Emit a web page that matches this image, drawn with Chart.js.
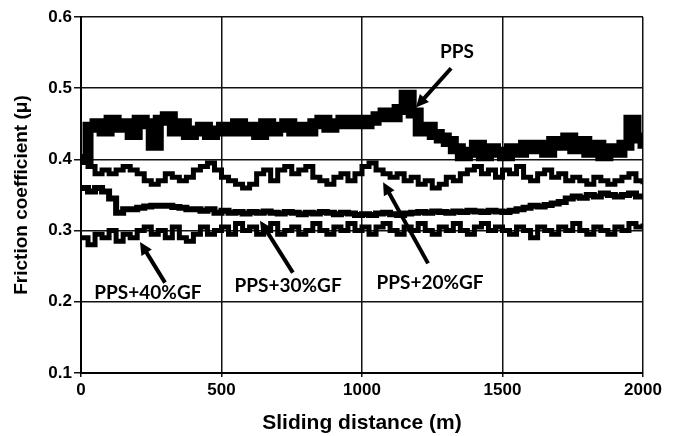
<!DOCTYPE html>
<html>
<head>
<meta charset="utf-8">
<script src="https://cdn.jsdelivr.net/npm/chart.js@4.4.1/dist/chart.umd.min.js"></script>
<style>
  html, body { margin: 0; padding: 0; background: #fff; }
  #wrap { width: 676px; height: 436px; }
</style>
</head>
<body>
<div id="wrap"><canvas id="friction_chart" width="676" height="436"></canvas></div>
<script>
// sliding distance (m), one reading every 25 m
const distances = [];
for (let d = 0; d <= 2000; d += 25) distances.push(d);

const pps = [0.40, 0.445, 0.45, 0.44, 0.455, 0.445, 0.45, 0.435, 0.455, 0.45, 0.42, 0.455, 0.46, 0.44, 0.45, 0.435, 0.44, 0.445, 0.435, 0.44,
  0.445, 0.44, 0.45, 0.44, 0.445, 0.435, 0.45, 0.44, 0.445, 0.45, 0.44, 0.445, 0.44, 0.45, 0.455, 0.445, 0.45, 0.455, 0.45, 0.455,
  0.45, 0.455, 0.46, 0.465, 0.46, 0.47, 0.49, 0.465, 0.44, 0.445, 0.435, 0.43, 0.425, 0.415, 0.405, 0.41, 0.42, 0.405, 0.415, 0.41,
  0.405, 0.415, 0.41, 0.42, 0.415, 0.42, 0.41, 0.425, 0.42, 0.43, 0.415, 0.425, 0.41, 0.42, 0.405, 0.415, 0.41, 0.42, 0.455, 0.43, 0.415];

const pps_20gf = [0.40, 0.39, 0.38, 0.385, 0.38, 0.385, 0.39, 0.385, 0.38, 0.37, 0.365, 0.37, 0.38, 0.375, 0.37, 0.375, 0.385, 0.39, 0.395, 0.385,
  0.375, 0.37, 0.365, 0.36, 0.365, 0.38, 0.385, 0.37, 0.385, 0.39, 0.38, 0.385, 0.39, 0.375, 0.37, 0.365, 0.375, 0.38, 0.37, 0.38,
  0.39, 0.395, 0.385, 0.38, 0.375, 0.38, 0.37, 0.375, 0.365, 0.37, 0.36, 0.365, 0.375, 0.37, 0.38, 0.385, 0.39, 0.38, 0.385, 0.375,
  0.385, 0.38, 0.39, 0.375, 0.37, 0.38, 0.385, 0.375, 0.38, 0.37, 0.375, 0.37, 0.365, 0.375, 0.37, 0.365, 0.37, 0.375, 0.38, 0.37, 0.365];

const pps_30gf = [0.36, 0.355, 0.36, 0.355, 0.345, 0.325, 0.33, 0.33, 0.332, 0.334, 0.335, 0.335, 0.335, 0.333, 0.332, 0.33, 0.33, 0.328, 0.33, 0.325,
  0.328, 0.325, 0.326, 0.324, 0.326, 0.325, 0.327, 0.325, 0.324, 0.326, 0.325, 0.323, 0.325, 0.324, 0.326, 0.325, 0.323, 0.325, 0.324, 0.322,
  0.323, 0.322, 0.324, 0.325, 0.323, 0.322, 0.324, 0.325, 0.326, 0.325, 0.327, 0.326, 0.325, 0.327, 0.326, 0.328, 0.327, 0.326, 0.328, 0.327,
  0.326, 0.328, 0.33, 0.332, 0.335, 0.334, 0.336, 0.338, 0.34, 0.345, 0.348, 0.346, 0.35, 0.348, 0.352, 0.35, 0.348, 0.35, 0.352, 0.348, 0.35];

const pps_40gf = [0.29, 0.28, 0.295, 0.29, 0.30, 0.285, 0.295, 0.29, 0.30, 0.305, 0.295, 0.30, 0.29, 0.305, 0.29, 0.285, 0.295, 0.305, 0.295, 0.30,
  0.305, 0.295, 0.31, 0.30, 0.305, 0.295, 0.30, 0.31, 0.295, 0.30, 0.305, 0.295, 0.30, 0.31, 0.30, 0.295, 0.305, 0.30, 0.31, 0.30,
  0.305, 0.295, 0.305, 0.31, 0.30, 0.295, 0.305, 0.30, 0.31, 0.30, 0.295, 0.305, 0.30, 0.31, 0.30, 0.295, 0.305, 0.31, 0.30, 0.305,
  0.30, 0.295, 0.305, 0.30, 0.29, 0.305, 0.30, 0.295, 0.305, 0.30, 0.31, 0.30, 0.295, 0.305, 0.30, 0.295, 0.305, 0.30, 0.31, 0.305, 0.31];

const x_ticks = [0, 500, 1000, 1500, 2000];
const y_ticks = [0.1, 0.2, 0.3, 0.4, 0.5, 0.6];

// callouts: label centre, arrow tail, arrow tip (data units)
const callouts = [
  { text: 'PPS',       label: [1338, 0.551], tail: [1317, 0.528], tip: [1192, 0.473] },
  { text: 'PPS+40%GF', label: [238, 0.212],  tail: [299, 0.227],  tip: [210, 0.284] },
  { text: 'PPS+30%GF', label: [737, 0.223],  tail: [754, 0.241],  tip: [637, 0.314] },
  { text: 'PPS+20%GF', label: [1242, 0.227], tail: [1235, 0.254], tip: [1075, 0.368] }
];

function to_points(values) {
  return values.map((v, i) => ({ x: distances[i], y: v }));
}

function make_series(values, width) {
  return {
    data: to_points(values),
    borderColor: '#000',
    borderWidth: width,
    pointRadius: 0,
    stepped: true,
    fill: false
  };
}

const callout_plugin = {
  id: 'callouts',
  afterDatasetsDraw(chart) {
    const ctx = chart.ctx;
    const xs = chart.scales.x, ys = chart.scales.y;
    ctx.save();
    callouts.forEach(c => {
      const tx = xs.getPixelForValue(c.tail[0]), ty = ys.getPixelForValue(c.tail[1]);
      const hx = xs.getPixelForValue(c.tip[0]), hy = ys.getPixelForValue(c.tip[1]);
      const ang = Math.atan2(hy - ty, hx - tx);
      const head = 14;
      ctx.strokeStyle = '#000';
      ctx.fillStyle = '#000';
      ctx.lineWidth = 4;
      ctx.beginPath();
      ctx.moveTo(tx, ty);
      ctx.lineTo(hx - Math.cos(ang) * head * 0.7, hy - Math.sin(ang) * head * 0.7);
      ctx.stroke();
      ctx.beginPath();
      ctx.moveTo(hx, hy);
      ctx.lineTo(hx - head * Math.cos(ang - 0.45), hy - head * Math.sin(ang - 0.45));
      ctx.lineTo(hx - head * Math.cos(ang + 0.45), hy - head * Math.sin(ang + 0.45));
      ctx.closePath();
      ctx.fill();

      ctx.font = 'bold 19px Lato';
      ctx.textAlign = 'center';
      ctx.textBaseline = 'middle';
      ctx.fillText(c.text, xs.getPixelForValue(c.label[0]), ys.getPixelForValue(c.label[1]));
    });
    ctx.restore();
  }
};

document.addEventListener('DOMContentLoaded', function() {
  const ctx = document.getElementById('friction_chart').getContext('2d');
  new Chart(ctx, {
    type: 'line',
    data: {
      datasets: [
        make_series(pps, 11),
        make_series(pps_20gf, 5),
        make_series(pps_30gf, 6),
        make_series(pps_40gf, 5)
      ]
    },
    options: {
      responsive: false,
      animation: false,
      layout: { padding: { top: 17, right: 33, left: 0, bottom: 0 } },
      plugins: { legend: { display: false }, tooltip: { enabled: false } },
      scales: {
        x: {
          type: 'linear',
          min: 0,
          max: 2000,
          afterBuildTicks: scale => { scale.ticks = x_ticks.map(v => ({ value: v })); },
          afterFit: scale => { scale.height = 63; },
          grid: { color: '#111', lineWidth: 1.5, tickLength: 4, drawTicks: true },
          border: { color: '#000', width: 2 },
          ticks: { color: '#000', padding: 3, maxRotation: 0, font: { family: 'Liberation Sans', size: 17, weight: 'bold' }, callback: v => String(v) },
          title: {
            display: true,
            text: 'Sliding distance (m)',
            color: '#000',
            padding: { top: 0, bottom: 0 },
            font: { family: 'Liberation Sans', size: 21, weight: 'bold' }
          }
        },
        y: {
          type: 'linear',
          min: 0.1,
          max: 0.6,
          afterBuildTicks: scale => { scale.ticks = y_ticks.map(v => ({ value: v })); },
          afterFit: scale => { scale.width = 81; },
          grid: { color: '#111', lineWidth: 1.5, tickLength: 7 },
          border: { color: '#000', width: 2 },
          ticks: { color: '#000', padding: 2, font: { family: 'Liberation Sans', size: 17, weight: 'bold' }, callback: v => v.toFixed(1) },
          title: {
            display: true,
            text: 'Friction coefficient (μ)',
            color: '#000',
            padding: { top: 10, bottom: 0 },
            font: { family: 'Liberation Sans', size: 19, weight: 'bold' }
          }
        }
      }
    },
    plugins: [callout_plugin]
  });
});
</script>
</body>
</html>
